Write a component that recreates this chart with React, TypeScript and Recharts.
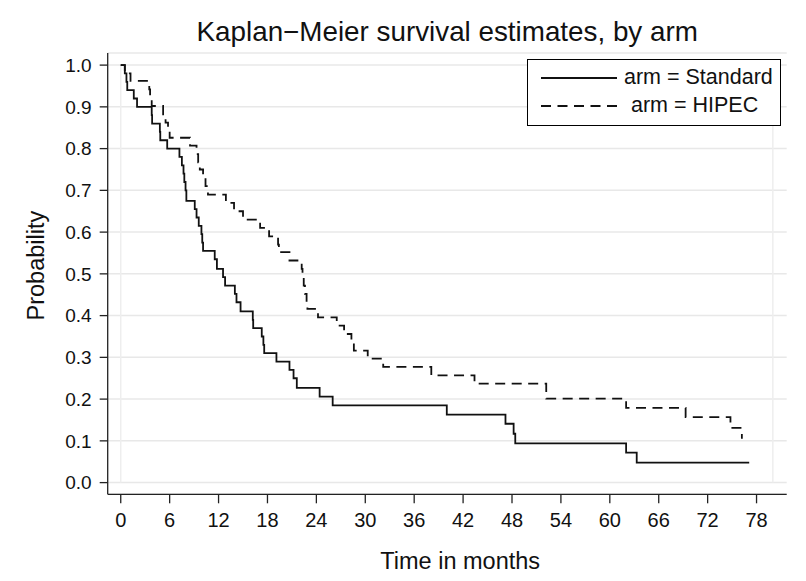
import React from 'react';
import { LineChart, Line, XAxis, YAxis, CartesianGrid, ReferenceLine, Legend, Label } from 'recharts';

// Kaplan-Meier step estimates (time in months, survival probability)
const standardTimes = [0, 0.5, 0.7, 0.8, 1.6, 2.0, 3.8, 3.85, 4.8, 4.85, 5.7, 7.2, 7.5, 7.7, 7.8, 7.95, 8.05, 9.08, 9.3, 9.57, 9.9, 10.0, 10.1, 11.53, 11.8, 12.55, 12.8, 14.0, 14.2, 14.7, 16.2, 16.25, 17.3, 17.5, 17.6, 19.1, 20.7, 21.2, 21.6, 24.4, 26.0, 40.0, 47.2, 48.2, 48.4, 62.0, 63.3, 77.1];
const standardSurv = [1.0, 0.98, 0.96, 0.94, 0.92, 0.90, 0.88, 0.86, 0.84, 0.82, 0.80, 0.78, 0.76, 0.74, 0.72, 0.70, 0.675, 0.655, 0.635, 0.615, 0.595, 0.575, 0.555, 0.535, 0.512, 0.492, 0.472, 0.452, 0.432, 0.41, 0.39, 0.37, 0.35, 0.33, 0.31, 0.29, 0.27, 0.25, 0.227, 0.206, 0.185, 0.163, 0.141, 0.117, 0.094, 0.072, 0.048, 0.048];

const hipecTimes = [0, 0.5, 1.2, 3.5, 3.6, 3.8, 5.2, 5.5, 5.8, 6.0, 8.5, 9.3, 9.5, 9.7, 10.1, 10.4, 10.7, 12.9, 13.9, 15.0, 17.1, 18.2, 19.3, 19.4, 20.7, 22.2, 22.3, 22.45, 22.6, 22.8, 22.9, 24.2, 26.5, 27.4, 28.3, 28.6, 30.3, 32.2, 38.1, 43.4, 52.2, 62.0, 69.3, 74.8, 76.2];
const hipecSurv = [1.0, 0.98, 0.962, 0.942, 0.922, 0.902, 0.882, 0.862, 0.843, 0.826, 0.807, 0.787, 0.767, 0.75, 0.73, 0.71, 0.69, 0.67, 0.65, 0.63, 0.61, 0.59, 0.57, 0.552, 0.532, 0.512, 0.492, 0.472, 0.452, 0.432, 0.416, 0.396, 0.376, 0.356, 0.336, 0.316, 0.297, 0.277, 0.257, 0.237, 0.201, 0.179, 0.157, 0.131, 0.105];

const xTicks = [0, 6, 12, 18, 24, 30, 36, 42, 48, 54, 60, 66, 72, 78];
const yTicks = [0, 0.1, 0.2, 0.3, 0.4, 0.5, 0.6, 0.7, 0.8, 0.9, 1.0];
const seriesNames = ['arm = Standard', 'arm = HIPEC'];
const chartTitle = 'Kaplan\u2212Meier survival estimates, by arm';
const xTitle = 'Time in months';
const yTitle = 'Probability';

const toPoints = (ts: number[], ps: number[]) => ts.map((t, i) => ({ t, s: ps[i] }));
const standardData = toPoints(standardTimes, standardSurv);
const hipecData = toPoints(hipecTimes, hipecSurv);

const FONT = '"Liberation Sans", Arial, Helvetica, sans-serif';
const INK = '#111111';
const DASH = '10 6.5';
const LW = 1.8;

const LegendBox = () => (
  <div
    style={{
      position: 'relative',
      width: 254,
      height: 67,
      border: '1px solid #000',
      boxSizing: 'border-box',
      background: '#fff',
      fontFamily: FONT,
      fontSize: 21.5,
      color: INK,
    }}
  >
    <svg width={80} height={60} style={{ position: 'absolute', left: 13, top: 0 }}>
      <line x1={0} x2={76} y1={18} y2={18} stroke={INK} strokeWidth={LW} />
      <line x1={0} x2={76} y1={46} y2={46} stroke={INK} strokeWidth={LW} strokeDasharray={DASH} />
    </svg>
    <div style={{ position: 'absolute', left: 96, top: 5, lineHeight: '25px', whiteSpace: 'nowrap' }}>{seriesNames[0]}</div>
    <div style={{ position: 'absolute', left: 103, top: 33, lineHeight: '25px', whiteSpace: 'nowrap' }}>{seriesNames[1]}</div>
  </div>
);

const YTitle = (props: any) => {
  const vb = props.viewBox || { x: 0, y: 0, height: 0 };
  const cx = vb.x + 24;
  const cy = vb.y + vb.height / 2 - 8;
  return (
    <text
      x={cx}
      y={cy}
      transform={`rotate(-90, ${cx}, ${cy})`}
      textAnchor="middle"
      fontFamily={FONT}
      fontSize={23.5}
      fill={INK}
    >
      {yTitle}
    </text>
  );
};

const XTitle = (props: any) => {
  const vb = props.viewBox || { x: 0, y: 0, width: 0 };
  const cx = vb.x + vb.width / 2 + 13;
  const cy = vb.y + 75;
  return (
    <text x={cx} y={cy} textAnchor="middle" fontFamily={FONT} fontSize={23.5} fill={INK}>
      {xTitle}
    </text>
  );
};

export default function App() {
  return (
    <div style={{ position: 'absolute', left: 0, top: 0, width: 806, height: 581, background: '#fff' }}>
      <div
        style={{
          position: 'absolute',
          left: 107.7,
          width: 679,
          top: 18,
          textAlign: 'center',
          fontFamily: FONT,
          fontSize: 27.8,
          lineHeight: '28px',
          color: INK,
          whiteSpace: 'nowrap',
        }}
      >
        {chartTitle}
      </div>
      <LineChart
        width={806}
        height={581}
        margin={{ top: 53, right: 19.3, left: 20, bottom: 26.7 }}
        style={{ position: 'absolute', left: 0, top: 0 }}
      >
        <CartesianGrid horizontal vertical={false} stroke="#e8e8e8" strokeWidth={1.5} />
        <ReferenceLine segment={[{ x: 0, y: 0 }, { x: 0, y: 1 }]} stroke="#eeeeee" strokeWidth={1.5} />
        <ReferenceLine segment={[{ x: 80, y: 0 }, { x: 80, y: 1 }]} stroke="#eeeeee" strokeWidth={1.5} />
        <XAxis
          dataKey="t"
          type="number"
          domain={[-1.6, 81.7]}
          allowDataOverflow
          ticks={xTicks}
          interval={0}
          height={60}
          tickSize={9}
          tickMargin={9}
          axisLine={{ stroke: '#222', strokeWidth: 1.3 }}
          tickLine={{ stroke: '#222', strokeWidth: 1.3 }}
          tick={{ fill: INK, fontSize: 20, fontFamily: FONT }}
        >
          <Label content={XTitle} />
        </XAxis>
        <YAxis
          type="number"
          domain={[-0.028, 1.029]}
          allowDataOverflow
          ticks={yTicks}
          interval={0}
          width={87.7}
          tickSize={8}
          tickMargin={8}
          tickFormatter={(v: number) => v.toFixed(1)}
          axisLine={{ stroke: '#222', strokeWidth: 1.3 }}
          tickLine={{ stroke: '#222', strokeWidth: 1.3 }}
          tick={{ fill: INK, fontSize: 19, fontFamily: FONT }}
        >
          <Label content={YTitle} />
        </YAxis>
        <Line
          data={standardData}
          dataKey="s"
          name={seriesNames[0]}
          type="stepAfter"
          stroke={INK}
          strokeWidth={LW}
          dot={false}
          activeDot={false}
          isAnimationActive={false}
        />
        <Line
          data={hipecData}
          dataKey="s"
          name={seriesNames[1]}
          type="stepAfter"
          stroke={INK}
          strokeWidth={LW}
          strokeDasharray={DASH}
          dot={false}
          activeDot={false}
          isAnimationActive={false}
        />
        <Legend
          layout="horizontal"
          verticalAlign="middle"
          align="center"
          content={() => <LegendBox />}
          wrapperStyle={{ position: 'absolute', left: 527, top: 59, width: 254, height: 67 }}
        />
      </LineChart>
    </div>
  );
}
